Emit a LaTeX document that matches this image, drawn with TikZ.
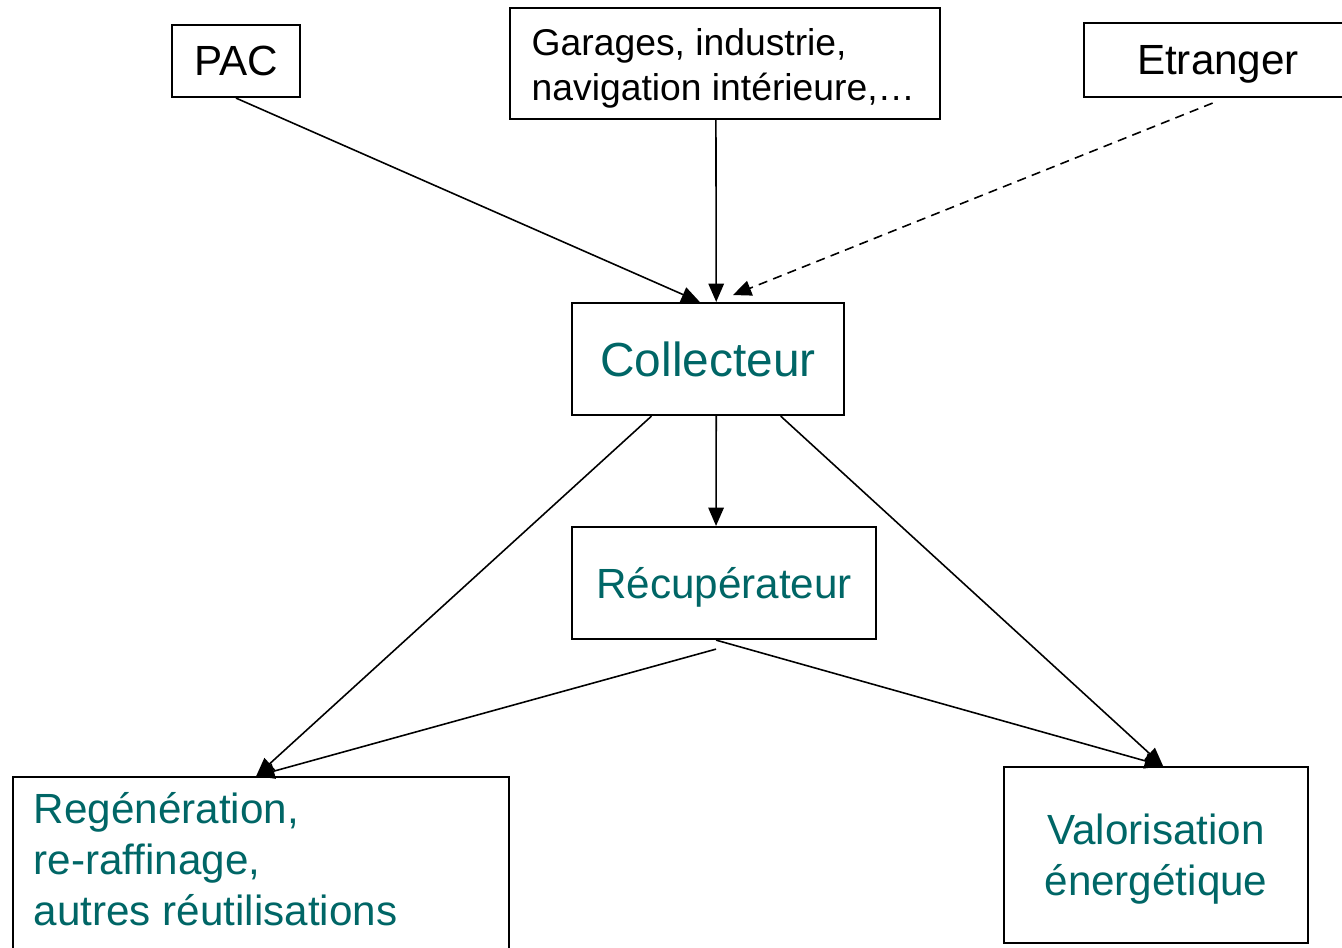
\documentclass[tikz,border=0pt]{standalone}
\usepackage{fontspec}
\setmainfont{Liberation Sans}
\usetikzlibrary{arrows.meta,calc}
\definecolor{boxteal}{RGB}{0,102,102}
\tikzset{
	box/.style={draw, line width=0.6pt, inner sep=0pt},
	flow/.style={-{Triangle[length=5.2pt,width=4.4pt]}, line width=0.45pt},
	big/.style={font=\fontsize{12}{14.5}\selectfont},
}
\begin{document}
\begin{tikzpicture}[x=0.01cm, y=-0.01cm]
		\useasboundingbox (0,0) rectangle (1342,947);
		
		\node[box, big, minimum width=1.28cm, minimum height=0.72cm] (pac) at (236,61) {PAC};
		\node[box, minimum width=4.3cm, minimum height=1.11cm] (garages) at (725,63.5) {};
		\node[font=\fontsize{10.6}{12.8}\selectfont, anchor=west, align=left, inner sep=0pt] (garagestext) at (531,68) {Garages, industrie,\\navigation intérieure,…};
		\node[box, big, minimum width=2.68cm, minimum height=0.74cm, text depth=0pt] (etranger) at (1218,60) {Etranger};
		
		\node[box, font=\fontsize{13.6}{16}\selectfont, text=boxteal, minimum width=2.72cm, minimum height=1.12cm] (collecteur) at (708,359) {Collecteur};
		\node[box, big, text=boxteal, minimum width=3.04cm, minimum height=1.12cm, text depth=0pt] (recup) at (724,583) {Récupérateur};
		
		\node[box, minimum width=4.96cm, minimum height=2.2cm, anchor=north west] (regen) at (12,776) {};
		\node[big, text=boxteal, anchor=north west, align=left, inner sep=0pt] (regentext) at (33,792) {Regénération,\\re-raffinage,\\autres réutilisations};
		\node[box, big, text=boxteal, minimum width=3.04cm, minimum height=1.76cm, align=center, text depth=0pt] (valor) at (1156,855) {Valorisation\\énergétique};
		
		\coordinate (colin) at ($(collecteur.north west)!0.53!(collecteur.north east)$);
		\coordinate (dashend) at (733,295);
		\coordinate (recupout) at ($(recup.south west)!0.474!(recup.south east)+(0,9)$);
		
		\draw[flow] (pac.south) -- ($(collecteur.north west)!0.47!(collecteur.north east)$);
		\draw[flow] ($(garages.south west)!0.479!(garages.south east)$) -- (colin);
		\draw[flow, dash pattern=on 2.6pt off 1.8pt] ($(etranger.south west)!0.48!(etranger.south east)+(0,5)$) -- (dashend);
		
		\draw[flow] ($(collecteur.south west)!0.294!(collecteur.south east)$) -- ($(regen.north west)!0.49!(regen.north east)$);
		\draw[flow] ($(collecteur.south west)!0.53!(collecteur.south east)$) -- ($(recup.north west)!0.474!(recup.north east)$);
		\draw[flow] ($(collecteur.south west)!0.765!(collecteur.south east)$) -- ($(valor.north west)!0.523!(valor.north east)$);
		
		\draw[flow] (recupout) -- ($(regen.north west)!0.49!(regen.north east)$);
		\draw[flow] ($(recup.south west)!0.474!(recup.south east)$) -- ($(valor.north west)!0.523!(valor.north east)$);
\end{tikzpicture}
\end{document}
